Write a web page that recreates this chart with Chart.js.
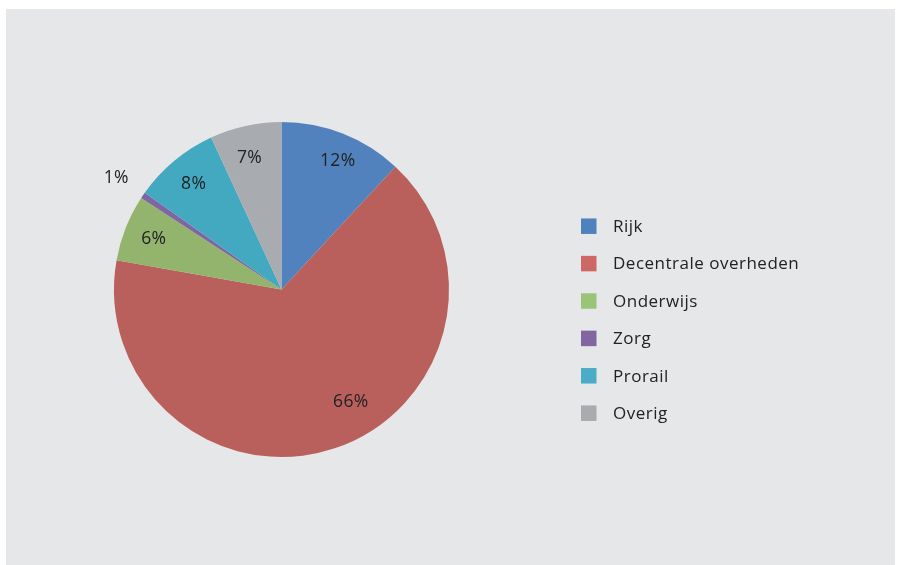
<!DOCTYPE html>
<html>
<head>
<meta charset="utf-8">
<script src="https://cdn.jsdelivr.net/npm/chart.js@4/dist/chart.umd.min.js"></script>
<style>
  html, body { margin: 0; padding: 0; background: #ffffff; width: 897px; height: 565px; overflow: hidden; }
  #panel { position: absolute; left: 6px; top: 9px; width: 889px; height: 556px; background: #e6e7e8; }
</style>
</head>
<body>
<div id="panel"><canvas id="c"></canvas></div>
<script>
const categories = ['Rijk', 'Decentrale overheden', 'Onderwijs', 'Zorg', 'Prorail', 'Overig'];
const shares = [11.9, 65.9, 6.4, 0.6, 8.3, 6.9];
const percentLabels = ['12%', '66%', '6%', '1%', '8%', '7%'];

const sliceColors = ['#5182bd', '#b9605c', '#92b46c', '#7f65a1', '#42a9c0', '#a8abaf'];
const legendColors = ['#4f81bd', '#cd6866', '#9cc478', '#8166a2', '#4aacc6', '#a9abae'];
const FONT = '"Open Sans", sans-serif';

const sliceLabels = {
  id: 'sliceLabels',
  afterDatasetsDraw(chart, args, opts) {
    const ctx = chart.ctx;
    const meta = chart.getDatasetMeta(0);
    ctx.save();
    ctx.font = '17.5px ' + FONT;
    if ('letterSpacing' in ctx) ctx.letterSpacing = '0.3px';
    ctx.fillStyle = '#222222';
    ctx.textAlign = 'center';
    ctx.textBaseline = 'middle';
    meta.data.forEach((arc, i) => {
      const p = arc.getProps(['x', 'y', 'startAngle', 'endAngle', 'outerRadius'], true);
      const f = opts.angleFrac[i];
      const a = p.startAngle + (p.endAngle - p.startAngle) * f;
      const r = p.outerRadius * opts.radiusFrac[i];
      ctx.fillText(percentLabels[i], p.x + Math.cos(a) * r, p.y + Math.sin(a) * r);
    });
    ctx.restore();
  }
};

const sideLegend = {
  id: 'sideLegend',
  afterDraw(chart, args, opts) {
    const ctx = chart.ctx;
    ctx.save();
    ctx.font = '17px ' + FONT;
    if ('letterSpacing' in ctx) ctx.letterSpacing = '0.5px';
    ctx.textBaseline = 'middle';
    ctx.textAlign = 'left';
    chart.data.labels.forEach((lab, i) => {
      const cy = opts.top + i * opts.step;
      ctx.fillStyle = legendColors[i];
      ctx.fillRect(opts.left, cy - opts.box / 2, opts.box, opts.box);
      ctx.fillStyle = '#222222';
      ctx.fillText(lab, opts.textLeft, cy + 1);
    });
    ctx.restore();
  }
};

new Chart(document.getElementById('c'), {
  type: 'pie',
  data: {
    labels: categories,
    datasets: [{
      data: shares,
      backgroundColor: sliceColors,
      borderWidth: 0
    }]
  },
  options: {
    responsive: true,
    maintainAspectRatio: false,
    animation: false,
    devicePixelRatio: 1,
    layout: { padding: { left: 108, top: 113, right: 446, bottom: 108 } },
    plugins: {
      legend: { display: false },
      tooltip: { enabled: false },
      sliceLabels: {
        radiusFrac: [0.84, 0.79, 0.82, 1.19, 0.82, 0.81],
        angleFrac: [0.55, 0.445, 0.5, 0.4, 0.5, 0.45]
      },
      sideLegend: { left: 575, top: 217.2, step: 37.4, box: 15.5, textLeft: 607 }
    }
  },
  plugins: [sliceLabels, sideLegend]
});
</script>
</body>
</html>
